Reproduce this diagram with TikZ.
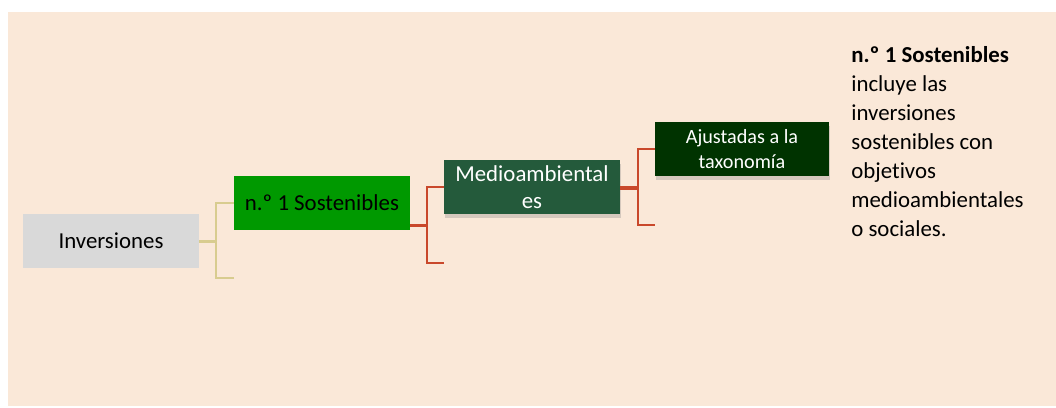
\documentclass[tikz,border=0pt]{standalone}
\usepackage{fontspec}
\setmainfont{Carlito}[Ligatures=NoCommon]
\usepackage{xcolor}
\usetikzlibrary{shadows}

\definecolor{fondo}{HTML}{FAE8D8}
\definecolor{gris}{HTML}{D9D9D9}
\definecolor{verde}{HTML}{009900}
\definecolor{verdemedio}{HTML}{245A3B}
\definecolor{verdeoscuro}{HTML}{003300}
\definecolor{caqui}{HTML}{D8CC8F}
\definecolor{rojizo}{HTML}{C9482B}

\begin{document}
\begin{tikzpicture}[x=0.02cm,y=-0.02cm,
    caja/.style={minimum width=3.52cm,minimum height=1.08cm,inner sep=0pt,
      align=center,font=\fontsize{13}{15.5}\selectfont},
    sombra/.style={drop shadow={opacity=0.3,shadow xshift=0.6pt,shadow yshift=-2pt}},
    rama1/.style={draw=caqui,line width=1.2pt},
    rama2/.style={draw=rojizo,line width=1.2pt}]
            \useasboundingbox (0,0) rectangle (1056,407);
            \fill[fondo] (8,12) rectangle (1056,406);

            \node[caja,fill=gris] (inv) at (111,241) {Inversiones};
            \node[caja,fill=verde] (sos) at (322,203) {n.º 1 Sostenibles};
            \node[caja,fill=verdemedio,text=white,sombra,
              font=\fontsize{13}{15}\selectfont] (med) at (532,187) {Medioambiental\\es};
            \node[caja,fill=verdeoscuro,text=white,sombra,minimum width=3.48cm,
              font=\fontsize{11.5}{14}\selectfont] (aju) at (742,149) {Ajustadas a la\\taxonomía};

            \coordinate (inv2) at (234,278);
            \coordinate (sos2) at (444,263);
            \coordinate (med2) at (655,225);
            \coordinate (j1) at (216,241);
            \coordinate (j2) at (427,225.5);
            \coordinate (j3) at (638,188);

            \draw[rama1,line width=1.7pt] (inv.east) -- (j1);
            \draw[rama1] (j1) |- (sos.west);
            \draw[rama1] (j1) |- (inv2);

            \draw[rama2,line width=1.9pt] (sos.east |- j2) -- (j2);
            \draw[rama2] (j2) |- (med.west);
            \draw[rama2] (j2) |- (sos2);

            \draw[rama2,line width=1.9pt] (med.east |- j3) -- (j3);
            \draw[rama2] (j3) |- (aju.west);
            \draw[rama2] (j3) |- (med2);

            \node[anchor=north west,inner sep=0pt,align=left,
              font=\fontsize{13}{16.5}\selectfont] (nota) at (851,46)
              {\textbf{n.º 1 Sostenibles}\\incluye las\\inversiones\\sostenibles con\\objetivos\\medioambientales\\o sociales.};
        \end{tikzpicture}
\end{document}
